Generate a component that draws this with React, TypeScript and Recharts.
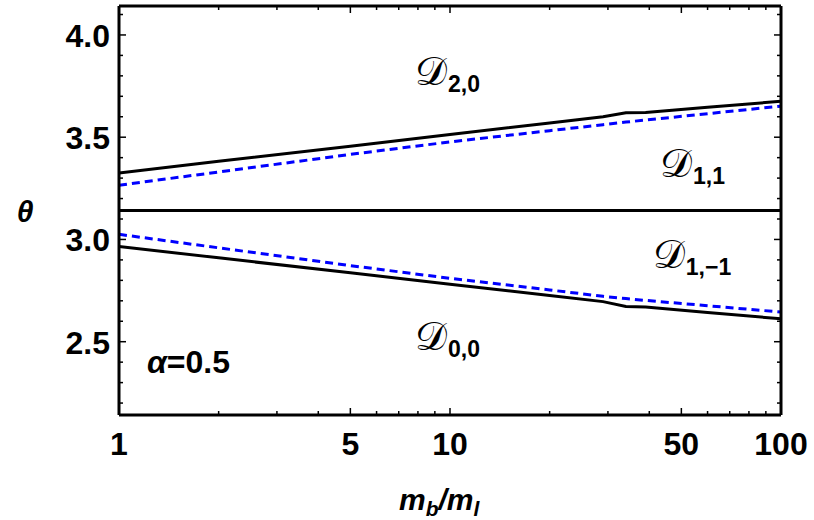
import {
  LineChart,
  Line,
  XAxis,
  YAxis,
  ReferenceDot,
} from "recharts";

const ratio = [1, 2, 5, 10, 20, 29, 34, 39, 60, 100];
const upperSolid = [3.325, 3.382, 3.456, 3.513, 3.57, 3.6, 3.62, 3.621, 3.646, 3.676];
const upperDashed = [3.265, 3.33, 3.416, 3.477, 3.532, 3.561, 3.574, 3.584, 3.615, 3.652];
const lowerDashed = [3.025, 2.959, 2.872, 2.81, 2.753, 2.722, 2.711, 2.702, 2.676, 2.645];
const lowerSolid = [2.966, 2.91, 2.837, 2.781, 2.726, 2.696, 2.672, 2.67, 2.643, 2.612];

const piRatio = [1, 100];
const piTheta = [Math.PI, Math.PI];

const xTicks = [1, 2, 3, 4, 5, 6, 7, 8, 9, 10, 20, 30, 40, 50, 60, 70, 80, 90, 100];
const xLabels = [1, 5, 10, 50, 100];
const yTicks = [
  2.2, 2.3, 2.4, 2.5, 2.6, 2.7, 2.8, 2.9, 3.0, 3.1, 3.2, 3.3, 3.4, 3.5, 3.6,
  3.7, 3.8, 3.9, 4.0, 4.1,
];
const yLabels = [2.5, 3.0, 3.5, 4.0];

const regions = [
  { x: 7.84, y: 3.757, main: "𝒟", sub: "2,0" },
  { x: 43.1, y: 3.305, main: "𝒟", sub: "1,1" },
  { x: 41.0, y: 2.858, main: "𝒟", sub: "1,−1" },
  { x: 7.84, y: 2.46, main: "𝒟", sub: "0,0" },
];

const toRows = (ys: number[], xs: number[] = ratio) =>
  xs.map((x, i) => ({ x, y: ys[i] }));

const FONT = "'Liberation Sans', Arial, sans-serif";
const isMajor = (list: number[], v: number) =>
  list.some((m) => Math.abs(m - v) < 1e-6);

const BottomTick = (props: any) => {
  const { x, y, payload } = props;
  const major = isMajor(xLabels, payload.value);
  return (
    <g>
      <line x1={x} y1={y} x2={x} y2={y - (major ? 7 : 4)} stroke="#000" strokeWidth={1.5} />
      {major && (
        <text x={x} y={y + 40} textAnchor="middle" fontFamily={FONT} fontWeight="bold" fontSize={32} fill="#000">
          {payload.value}
        </text>
      )}
    </g>
  );
};

const TopTick = (props: any) => {
  const { x, y, payload } = props;
  const major = isMajor(xLabels, payload.value);
  return <line x1={x} y1={y} x2={x} y2={y + (major ? 7 : 4)} stroke="#000" strokeWidth={1.5} />;
};

const LeftTick = (props: any) => {
  const { x, y, payload } = props;
  const major = isMajor(yLabels, payload.value);
  return (
    <g>
      <line x1={x} y1={y} x2={x + (major ? 7 : 4)} y2={y} stroke="#000" strokeWidth={1.5} />
      {major && (
        <text x={x - 9} y={y + 12} textAnchor="end" fontFamily={FONT} fontWeight="bold" fontSize={32} fill="#000">
          {payload.value.toFixed(1)}
        </text>
      )}
    </g>
  );
};

const RightTick = (props: any) => {
  const { x, y, payload } = props;
  const major = isMajor(yLabels, payload.value);
  return <line x1={x} y1={y} x2={x - (major ? 7 : 4)} y2={y} stroke="#000" strokeWidth={1.5} />;
};

const RegionLabel = ({ cx, cy, main, sub }: any) => (
  <text x={cx} y={cy} fontFamily={FONT} fill="#000">
    <tspan fontSize={40} fontFamily="'DejaVu Serif', serif">
      {main}
    </tspan>
    <tspan fontSize={23} fontWeight="bold" dx={1} dy={7}>
      {sub}
    </tspan>
  </text>
);

export default function App() {
  return (
    <div style={{ position: "absolute", left: 0, top: 0, background: "#fff" }}>
      <LineChart
        width={814}
        height={520}
        margin={{ top: 5, right: 32, bottom: 45, left: 8 }}
      >
        <XAxis
          dataKey="x"
          type="number"
          scale="log"
          domain={[1, 100]}
          allowDataOverflow
          ticks={xTicks}
          interval={0}
          height={60}
          tickSize={0}
          tickMargin={0}
          tickLine={false}
          axisLine={{ stroke: "#000", strokeWidth: 3 }}
          tick={BottomTick}
          label={{
            content: ({ viewBox }: any) => (
              <text
                x={viewBox.x + viewBox.width / 2 - 51}
                y={viewBox.y + 95}
                fontFamily={FONT}
                fontWeight="bold"
                fontStyle="italic"
                fill="#000"
              >
                <tspan fontSize={30}>m</tspan>
                <tspan fontSize={21} dy={6}>b</tspan>
                <tspan fontSize={30} dy={-6}>/m</tspan>
                <tspan fontSize={21} dy={6}>l</tspan>
              </text>
            ),
          }}
        />
        <XAxis
          xAxisId="top"
          dataKey="x"
          type="number"
          scale="log"
          orientation="top"
          domain={[1, 100]}
          allowDataOverflow
          ticks={xTicks}
          interval={0}
          height={1}
          tickSize={0}
          tickMargin={0}
          tickLine={false}
          axisLine={{ stroke: "#000", strokeWidth: 3 }}
          tick={TopTick}
        />
        <YAxis
          type="number"
          domain={[Math.PI - 1, Math.PI + 1]}
          allowDataOverflow
          ticks={yTicks}
          interval={0}
          width={111}
          tickSize={0}
          tickMargin={0}
          tickLine={false}
          axisLine={{ stroke: "#000", strokeWidth: 3 }}
          tick={LeftTick}
          label={{
            content: ({ viewBox }: any) => (
              <text
                x={viewBox.x + 17}
                y={viewBox.y + viewBox.height / 2 + 11}
                textAnchor="middle"
                fontFamily={FONT}
                fontWeight="bold"
                fontStyle="italic"
                fontSize={30}
                fill="#000"
              >
                θ
              </text>
            ),
          }}
        />
        <YAxis
          yAxisId="right"
          orientation="right"
          type="number"
          domain={[Math.PI - 1, Math.PI + 1]}
          allowDataOverflow
          ticks={yTicks}
          interval={0}
          width={1}
          tickSize={0}
          tickMargin={0}
          tickLine={false}
          axisLine={{ stroke: "#000", strokeWidth: 3 }}
          tick={RightTick}
        />
        <Line
          xAxisId="top"
          yAxisId="right"
          data={toRows(piTheta, piRatio)}
          dataKey="y"
          stroke="#000"
          strokeWidth={3}
          dot={false}
          isAnimationActive={false}
        />
        <Line data={toRows(upperSolid)} dataKey="y" type="linear" stroke="#000" strokeWidth={3} dot={false} isAnimationActive={false} />
        <Line data={toRows(lowerSolid)} dataKey="y" type="linear" stroke="#000" strokeWidth={3} dot={false} isAnimationActive={false} />
        <Line data={toRows(upperDashed)} dataKey="y" type="linear" stroke="#0000ff" strokeWidth={3} strokeDasharray="8 5" dot={false} isAnimationActive={false} />
        <Line data={toRows(lowerDashed)} dataKey="y" type="linear" stroke="#0000ff" strokeWidth={3} strokeDasharray="8 5" dot={false} isAnimationActive={false} />
        {regions.map((r) => (
          <ReferenceDot
            key={r.sub}
            x={r.x}
            y={r.y}
            r={0}
            ifOverflow="visible"
            shape={(p: any) => <RegionLabel cx={p.cx} cy={p.cy} main={r.main} sub={r.sub} />}
          />
        ))}
        <ReferenceDot
          x={1.215}
          y={2.348}
          r={0}
          ifOverflow="visible"
          shape={(p: any) => (
            <text x={p.cx} y={p.cy} fontFamily={FONT} fontWeight="bold" fontSize={32} fill="#000">
              <tspan fontStyle="italic">α</tspan>=0.5
            </text>
          )}
        />
      </LineChart>
    </div>
  );
}
